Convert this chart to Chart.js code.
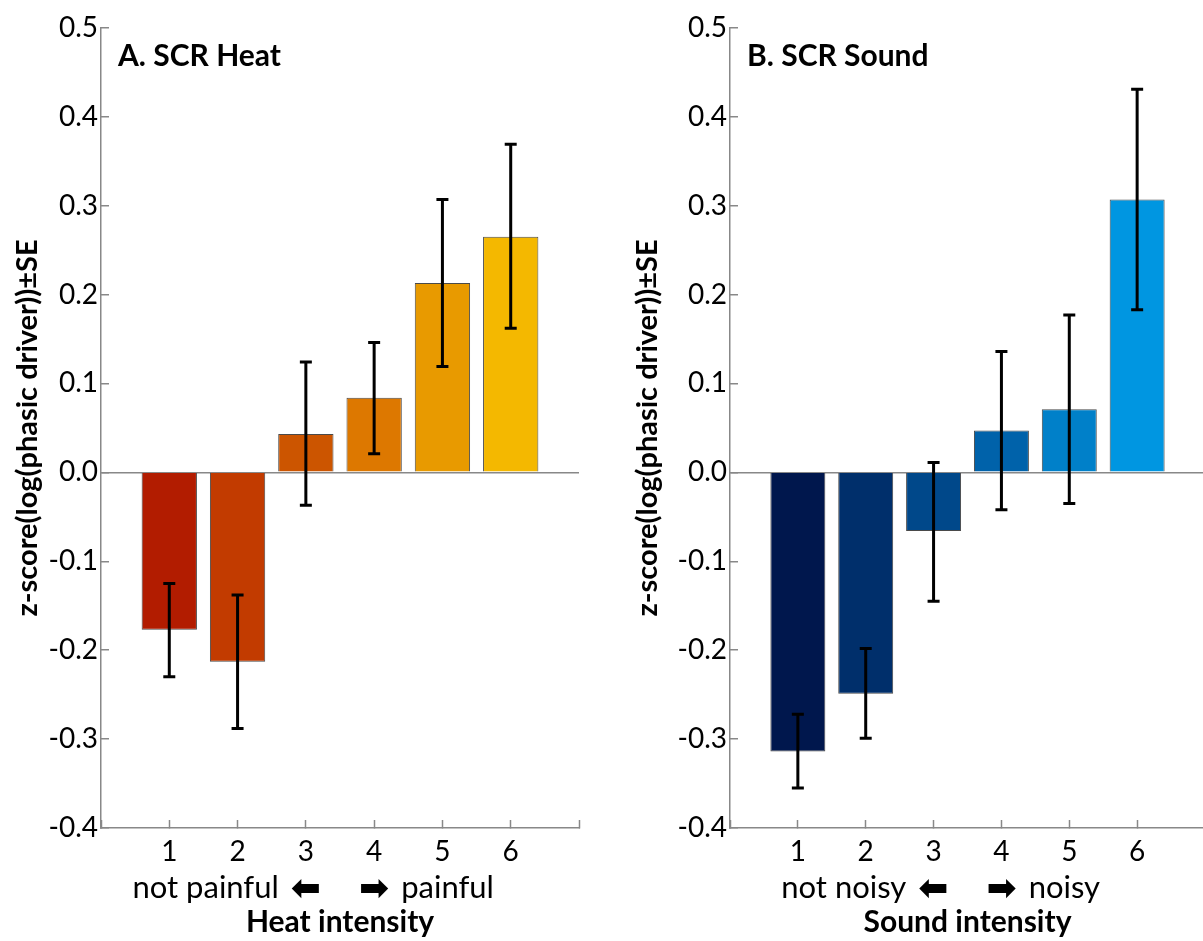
<!DOCTYPE html>
<html>
<head>
<meta charset="utf-8">
<script src="https://cdn.jsdelivr.net/npm/chart.js@4.4.1/dist/chart.umd.min.js"></script>
<style>
  html, body { margin: 0; padding: 0; background: #fff; overflow: hidden; }
  #wrap { position: relative; width: 1203px; height: 941px; overflow: hidden; }
  #heat { position: absolute; left: 0; top: 0; }
  #sound { position: absolute; left: 600px; top: 0; }
</style>
</head>
<body>
<div id="wrap">
  <canvas id="heat" width="600" height="941"></canvas>
  <canvas id="sound" width="620" height="941"></canvas>
</div>
<script>
// intensity levels 1..6
var levels = [1, 2, 3, 4, 5, 6];
var yTicks = [-0.4, -0.3, -0.2, -0.1, 0.0, 0.1, 0.2, 0.3, 0.4, 0.5];

// A. SCR Heat
var heatMean = [-0.177, -0.213, 0.043, 0.084, 0.213, 0.265];
var heatLow  = [-0.230, -0.288, -0.037, 0.021, 0.119, 0.162];
var heatHigh = [-0.125, -0.138, 0.124, 0.146, 0.307, 0.369];
var heatColors = ['#b21c00', '#c23b00', '#cc5500', '#dd7800', '#e89a00', '#f4b800'];

// B. SCR Sound
var soundMean = [-0.314, -0.249, -0.066, 0.047, 0.071, 0.307];
var soundLow  = [-0.355, -0.299, -0.145, -0.042, -0.035, 0.183];
var soundHigh = [-0.272, -0.198, 0.011, 0.136, 0.177, 0.431];
var soundColors = ['#00174d', '#002f6b', '#00488a', '#0062aa', '#0080c9', '#0096e1'];

var FONT = 'Lato, "DejaVu Sans", sans-serif';

var errorBars = {
	id: 'errorBars',
	afterDatasetsDraw: function(chart, args, opts) {
		var ctx = chart.ctx;
		var y = chart.scales.y;
		var meta = chart.getDatasetMeta(0);
		ctx.save();
		ctx.strokeStyle = '#000';
		ctx.lineWidth = 3;
		for (var i = 0; i < opts.low.length; i++) {
			var px = meta.data[i].x;
			var y1 = y.getPixelForValue(opts.low[i]);
			var y2 = y.getPixelForValue(opts.high[i]);
			ctx.beginPath();
			ctx.moveTo(px, y1); ctx.lineTo(px, y2);
			ctx.moveTo(px - 6, y1); ctx.lineTo(px + 6, y1);
			ctx.moveTo(px - 6, y2); ctx.lineTo(px + 6, y2);
			ctx.stroke();
		}
		ctx.restore();
	}
};

var panelText = {
	id: 'panelText',
	afterDraw: function(chart, args, opts) {
		var ctx = chart.ctx;
		var a = chart.chartArea;
		var mid = (a.left + a.right) / 2;
		ctx.save();
		ctx.fillStyle = '#000';
		ctx.textBaseline = 'alphabetic';
		ctx.textAlign = 'left';
		ctx.font = 'bold 30px ' + FONT;
		ctx.fillText(opts.title, a.left + 17, 66);

		// "not painful <-   -> painful"
		var yy = 898;
		ctx.font = 'bold 36px "DejaVu Sans"';
		var aw = ctx.measureText('\u2B05').width;
		ctx.textAlign = 'right';
		ctx.fillText('\u2B05', mid - 19, yy + 2);
		ctx.textAlign = 'left';
		ctx.fillText('\u27A1', mid + 19, yy + 2);
		ctx.font = '31px ' + FONT;
		ctx.textAlign = 'right';
		ctx.fillText(opts.lowText, mid - 19 - aw - 12, yy);
		ctx.textAlign = 'left';
		ctx.fillText(opts.highText, mid + 19 + aw + 12, yy);
		ctx.restore();
	}
};

function makeChart(id, mean, low, high, colors, title, lowText, highText, xTitle, opt) {
	var ctx = document.getElementById(id).getContext('2d');
	return new Chart(ctx, {
		type: 'bar',
		data: {
			datasets: [{
				data: levels.map(function(l, i) { return {x: l, y: mean[i]}; }),
				backgroundColor: colors,
				borderColor: '#4a4a4a',
				borderWidth: 1,
				categoryPercentage: 1.0,
				barPercentage: 0.81
			}]
		},
		options: {
			responsive: false,
			animation: false,
			layout: { padding: { left: 0, top: 26, right: opt.padRight, bottom: 0 } },
			plugins: {
				legend: { display: false },
				tooltip: { enabled: false },
				errorBars: { low: low, high: high },
				panelText: { title: title, lowText: lowText, highText: highText }
			},
			scales: {
				x: {
					type: 'linear',
					offset: false,
					min: 0,
					max: 7,
					afterFit: function(s) { s.height = 113; },
					afterBuildTicks: function(s) {
						s.ticks = [0, 1, 2, 3, 4, 5, 6, 7].map(function(v) { return {value: v}; });
					},
					ticks: {
						color: '#000',
						padding: 15,
						font: { family: FONT, size: 28 },
						callback: function(v) { return (v >= 1 && v <= 6) ? String(v) : ''; }
					},
					grid: { offset: false, drawOnChartArea: false, tickLength: -8, tickColor: '#888', tickWidth: 1.5 },
					border: { color: '#888', width: 1.5 },
					title: {
						display: true,
						text: xTitle,
						color: '#000',
						font: { family: FONT, size: 30, weight: 'bold' },
						padding: { top: 0, bottom: 1 }
					}
				},
				y: {
					min: -0.4,
					max: 0.5,
					afterFit: function(s) { s.width = opt.yWidth; },
					afterBuildTicks: function(s) {
						s.ticks = yTicks.map(function(v) { return {value: v}; });
					},
					ticks: {
						color: '#000',
						padding: 11,
						font: { family: FONT, size: 28 },
						callback: function(v) { return Math.abs(v) < 1e-9 ? '0.0' : v.toFixed(1); }
					},
					grid: {
						tickLength: -8,
						tickColor: '#888',
						tickWidth: 1.5,
						lineWidth: 1.5,
						color: function(c) { return (c.tick && Math.abs(c.tick.value) < 1e-9) ? '#888' : 'rgba(0,0,0,0)'; }
					},
					border: { color: '#888', width: 1.5 },
					title: {
						display: true,
						text: 'z-score(log(phasic driver))\u00B1SE',
						color: '#000',
						font: { family: FONT, size: 29, weight: 'bold' },
						padding: { top: opt.titlePad, bottom: 0 }
					}
				}
			}
		},
		plugins: [errorBars, panelText]
	});
}

makeChart('heat', heatMean, heatLow, heatHigh, heatColors, 'A. SCR Heat',
	'not painful', 'painful', 'Heat intensity', { padRight: 21, yWidth: 101, titlePad: 10 });
makeChart('sound', soundMean, soundLow, soundHigh, soundColors, 'B. SCR Sound',
	'not noisy', 'noisy', 'Sound intensity', { padRight: 11, yWidth: 130, titlePad: 30 });
</script>
</body>
</html>
